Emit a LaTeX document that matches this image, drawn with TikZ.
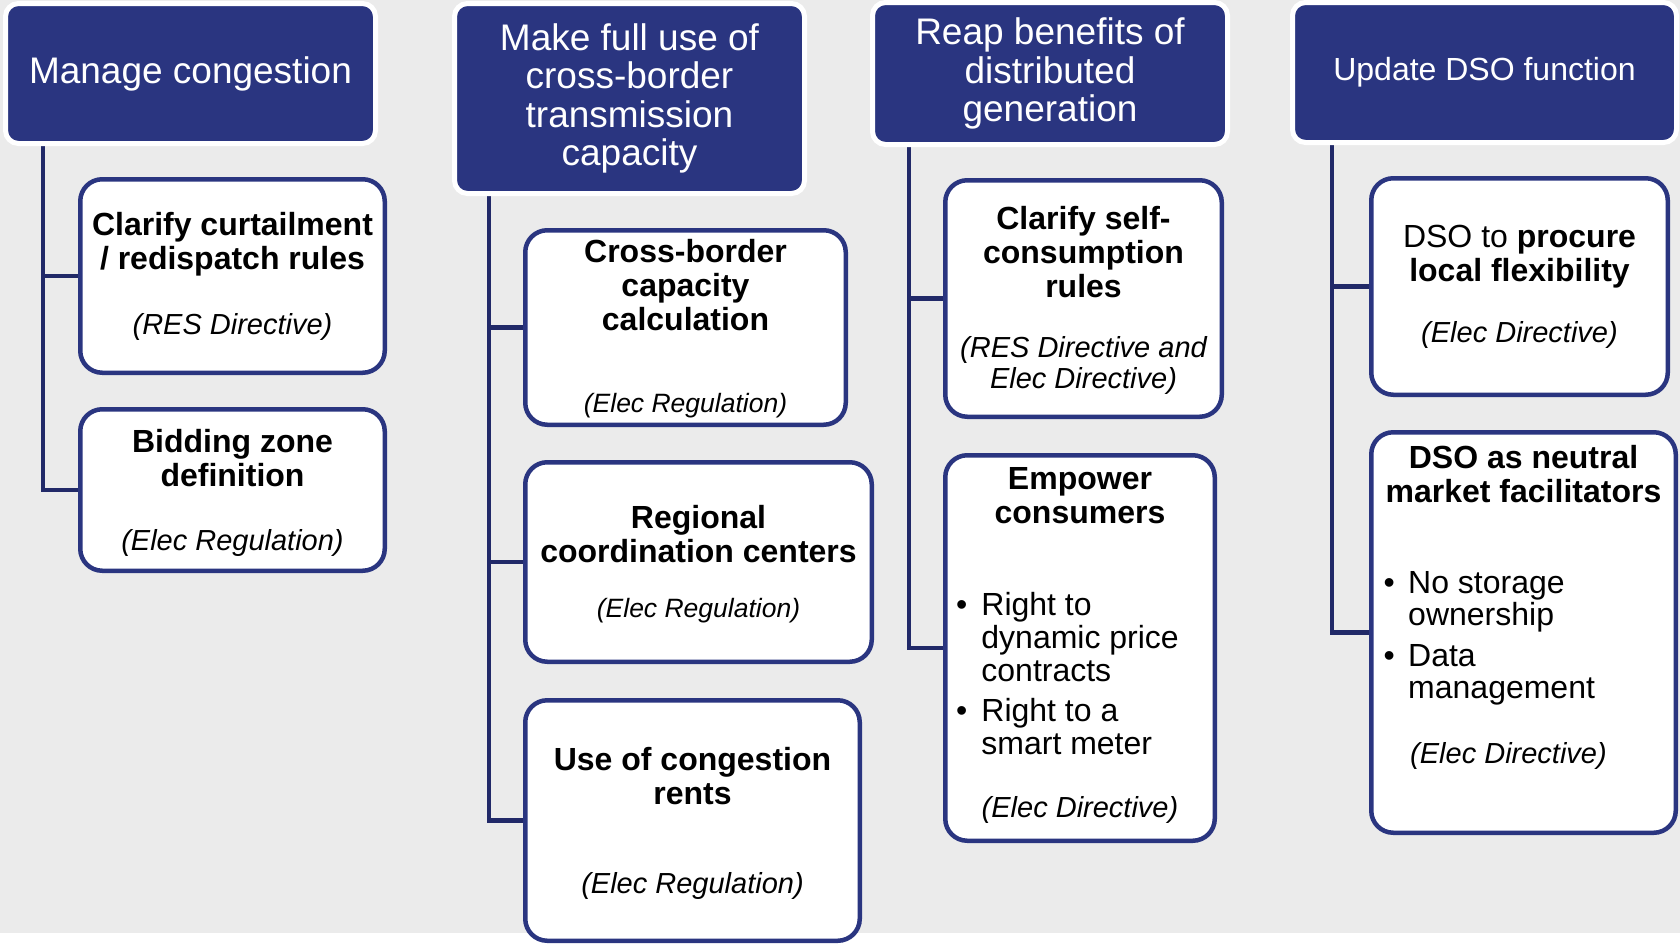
\documentclass[tikz,border=0pt]{standalone}
\usepackage{fontspec}
\setmainfont{Liberation Sans}
\usetikzlibrary{backgrounds}

\definecolor{navy}{RGB}{42,53,128}
\definecolor{linkblue}{RGB}{33,41,104}
\definecolor{bggray}{RGB}{235,235,235}

\tikzset{
  headbox/.style={draw=white, line width=5pt, fill=navy, rounded corners=13pt,
    text=white, align=center, inner sep=0pt, font=\fontsize{37}{38.5}\selectfont},
  itembox/.style={draw=navy, line width=4.5pt, fill=white, rounded corners=22pt, inner sep=0pt},
  title/.style={font=\bfseries\fontsize{32}{34}\selectfont, align=center, anchor=north, inner sep=0pt},
  src/.style={font=\itshape\fontsize{29}{31}\selectfont, align=center, anchor=north, inner sep=0pt},
  srcsmall/.style={src, font=\itshape\fontsize{26.5}{28}\selectfont},
  bul/.style={font=\fontsize{32}{33}\selectfont, anchor=north west, inner sep=0pt},
  link/.style={draw=linkblue, line width=4.5pt}
}

\begin{document}
\begin{tikzpicture}[x=1pt,y=-1pt]
\useasboundingbox (0,0) rectangle (1680,945);

% headers
\node[headbox, minimum width=370, minimum height=140] (h1) at (190.5,73.5) {Manage congestion};
\node[headbox, minimum width=350, minimum height=190] (h2) at (629.5,98.5) {Make full use of\\cross-border\\transmission\\capacity};
\node[headbox, minimum width=355, minimum height=142] (h3) at (1050,73.5) {Reap benefits of\\distributed\\generation};
\node[headbox, minimum width=384, minimum height=140, font=\fontsize{32}{34}\selectfont] (h4) at (1484.5,72.5) {Update DSO function};

% boxes
\node[itembox, minimum width=304.5, minimum height=193.5] (c11) at (232.5,276) {};
\node[itembox, minimum width=304.5, minimum height=161.5] (c12) at (232.5,490) {};
\node[itembox, minimum width=320.5, minimum height=194.5] (c21) at (685.5,327.5) {};
\node[itembox, minimum width=346.5, minimum height=199.5] (c22) at (698.5,562) {};
\node[itembox, minimum width=334.5, minimum height=240.5] (c23) at (692.5,820.5) {};
\node[itembox, minimum width=276.5, minimum height=236.5] (c31) at (1083.5,298.5) {};
\node[itembox, minimum width=269.5, minimum height=385.5] (c32) at (1080,648) {};
\node[itembox, minimum width=296.5, minimum height=216.5] (c41) at (1519.5,286.5) {};
\node[itembox, minimum width=304.5, minimum height=400.5] (c42) at (1523.5,632.5) {};

% texts
\node[title] (c11t) at (232.5,212) {Clarify curtailment\\/ redispatch rules};
\node[src] (c11s) at (232.5,313) {(RES Directive)};
\node[title] (c12t) at (232.5,429) {Bidding zone\\definition};
\node[src] (c12s) at (232.5,529) {(Elec Regulation)};

\node[title] (c21t) at (685.5,239) {Cross-border\\capacity\\calculation};
\node[srcsmall] (c21s) at (685.5,393) {(Elec Regulation)};
\node[title] (c22t) at (698.5,505) {Regional\\coordination centers};
\node[srcsmall] (c22s) at (698.5,598) {(Elec Regulation)};
\node[title] (c23t) at (692.5,747) {Use of congestion\\rents};
\node[src] (c23s) at (692.5,872) {(Elec Regulation)};

\node[title] (c31t) at (1083.5,206) {Clarify self-\\consumption\\rules};
\node[src] (c31s) at (1083.5,336) {(RES Directive and\\Elec Directive)};
\node[title] (c32t) at (1080,467) {Empower\\consumers};
\node[bul] (c32b) at (956,592) {\begin{tabular}{@{}l@{\hspace{14pt}}l@{}}
  \textbullet & Right to\\
   & dynamic price\\
   & contracts\\[7pt]
  \textbullet & Right to a\\
   & smart meter
  \end{tabular}};
\node[src] (c32s) at (1080,796) {(Elec Directive)};

\node[title, font=\fontsize{32}{34}\selectfont] (c41t) at (1519.5,225) {DSO to \textbf{procure}\\\textbf{local flexibility}};
\node[src] (c41s) at (1519.5,321) {(Elec Directive)};
\node[title] (c42t) at (1523.5,445) {DSO as neutral\\market facilitators};
\node[bul, font=\fontsize{32}{32}\selectfont] (c42b) at (1383.4,570.6) {\begin{tabular}{@{}l@{\hspace{13.4pt}}l@{}}
  \textbullet & No storage\\
   & ownership\\[9pt]
  \textbullet & Data\\
   & management
  \end{tabular}};
\node[src, anchor=north west] (c42s) at (1410,742) {(Elec Directive)};

% tree lines
\coordinate (t1) at (43,141);
\coordinate (t2) at (489,191);
\coordinate (t3) at (909,142);
\coordinate (t4) at (1332,140);
\begin{scope}[on background layer]
\fill[white] (0,0) rectangle (1680,945);
\fill[bggray] (0,0) rectangle (1680,933);
\draw[link] (t1) |- (c11.west);
\draw[link] (t1) |- (c12.west);
\draw[link] (t2) |- (c21.west);
\draw[link] (t2) |- (c22.west);
\draw[link] (t2) |- (c23.west);
\draw[link] (t3) |- (c31.west);
\draw[link] (t3) |- (c32.west);
\draw[link] (t4) |- (c41.west);
\draw[link] (t4) |- (c42.west);
\end{scope}
\end{tikzpicture}
\end{document}
